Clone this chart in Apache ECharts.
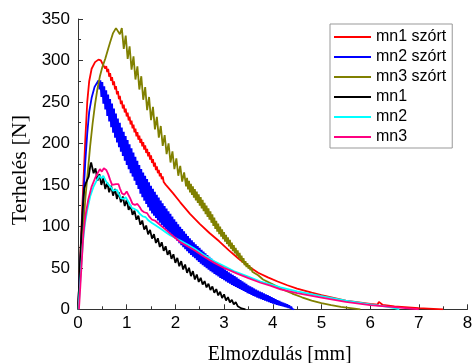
<!DOCTYPE html>
<html><head><meta charset="utf-8">
<script src="https://cdn.jsdelivr.net/npm/echarts@6/dist/echarts.min.js"></script>
<style>html,body{margin:0;padding:0;background:#fff}#c{width:474px;height:363px}</style>
</head><body><div id="c"></div>
<script>
// Tick labels
const xTicks = [0,1,2,3,4,5,6,7,8];
const yTicks = [0,50,100,150,200,250,300,350];
const seriesNames = ['mn1 szórt','mn2 szórt','mn3 szórt','mn1','mn2','mn3'];

// mn1 szórt (red): [displacement mm, load N]
const mn1Szort = [[0,0],[0.03,38],[0.06,80],[0.09,125],[0.12,165],[0.15,205],[0.19,250],[0.23,275],[0.28,290],[0.35,298],[0.42,301],[0.47,300],[0.50,298],
[0.52,294.2],[0.54,296.4],[0.56,290.4],[0.58,293.3],[0.60,286],[0.62,290],[0.64,280.4],[0.66,284.9],[0.68,275.4],[0.70,279.8],[0.72,270.3],
[0.74,274.8],[0.76,265],[0.78,269.1],[0.80,259.2],[0.82,263.2],[0.84,253.3],[0.86,257.4],[0.88,247.4],[0.90,251.5],[0.92,242.1],[0.94,246.7],
[0.96,237.3],[0.98,241.9],[1.00,232.5],[1.02,237.1],[1.04,227.7],[1.06,232.3],[1.08,222.9],[1.10,227.5],[1.12,218.1],[1.14,222.7],[1.16,213.3],
[1.18,217.9],[1.20,208.5],[1.22,213.5],[1.24,204.5],[1.26,209.5],[1.28,200.5],[1.30,205.5],[1.32,196.5],[1.34,201.5],[1.36,192.5],[1.38,197.5],
[1.40,188.5],[1.42,193.5],[1.44,184.5],[1.46,189.5],[1.48,180.5],[1.50,185.5],[1.52,176.4],[1.54,181.2],[1.56,172.1],[1.58,177],[1.60,167.8],
[1.62,172.4],[1.64,164.1],[1.66,168.1],[1.68,160.4],[1.70,164.1],[1.72,157],[1.74,160.1],[1.76,153.5],[1.78,155.9],[1.80,150.3],[1.82,151.9],
[1.84,147.6],[1.86,148.2],
[1.95,140],[2.1,129],[2.3,115],[2.5,103],[2.7,92],[2.9,82],[3.1,71],[3.3,61],[3.5,52],[3.7,44],[3.9,38.5],[4.1,33.5],[4.3,29],[4.5,25],
[4.8,20],[5.0,17],[5.5,10.5],[6.0,6.5],[6.15,5.5],[6.18,9],[6.22,8],[6.26,5.2],[6.5,3.5],[7.0,1.5],[7.5,0]];

// mn2 szórt (blue)
const mn2Szort = [[0,0],[0.03,35],[0.06,70],[0.09,108],[0.12,145],[0.15,178],[0.19,212],[0.23,238],[0.28,255],[0.34,268],[0.42,276],
[0.44,265],[0.46,276],[0.48,256],[0.50,274],[0.52,248],[0.54,269],[0.56,241],[0.58,264],[0.60,233],[0.62,259],[0.64,226.5],[0.66,253.4],
[0.68,219.5],[0.70,248],[0.72,213],[0.74,242],[0.76,207],[0.78,236],[0.80,201],[0.82,230],[0.84,195.5],[0.86,225],[0.88,190],[0.90,219],
[0.92,185],[0.94,214],[0.96,179],[0.98,209],[1.00,174],[1.02,204],[1.04,169],[1.06,199],[1.08,164],[1.10,194],[1.12,160],[1.14,189],
[1.16,155],[1.18,184],[1.20,150],[1.22,179],[1.24,145],[1.26,174],[1.28,139.5],[1.30,169],[1.32,135],[1.34,165],[1.36,131],[1.38,161],
[1.40,127],[1.42,157],[1.44,123],[1.46,153],[1.48,119],[1.50,149],[1.52,115.6],[1.54,145.4],[1.56,112.8],[1.58,141.8],[1.60,110],[1.62,138],
[1.64,107],[1.66,134.6],[1.68,104.4],[1.70,131],[1.72,101.8],[1.74,127.8],[1.76,99.4],[1.78,124.6],[1.80,97],[1.82,121.4],[1.84,94.6],
[1.86,118.2],[1.88,92.2],[1.90,115],[1.92,89.8],[1.94,111.8],[1.96,87.4],[1.98,108.6],[2.00,85],[2.02,105.5],[2.04,82.4],[2.06,102.5],
[2.08,79.8],[2.10,99.5],[2.12,77.3],[2.14,96.7],[2.16,74.9],[2.18,93.9],[2.20,72.5],[2.22,91.1],[2.24,70.1],[2.26,88.3],[2.28,67.7],
[2.30,85.5],[2.32,65.5],[2.34,83.1],[2.36,63.5],[2.38,80.7],[2.40,61.5],[2.42,78.4],[2.44,59.3],[2.46,76.2],[2.48,57.1],[2.50,74],
[2.52,55.1],[2.54,71.8],[2.56,53.3],[2.58,69.6],[2.60,51.4],[2.62,67.5],[2.64,49.6],[2.66,65.3],[2.68,47.8],[2.70,63.2],[2.72,46],
[2.74,61.2],[2.76,44.4],[2.78,59.2],[2.80,42.7],[2.82,57.3],[2.84,41.1],[2.86,55.3],[2.88,39.5],[2.90,53.4],[2.92,37.9],[2.94,51.6],
[2.96,36.5],[2.98,49.8],[3.00,35],[3.02,48.1],[3.04,33.6],[3.06,46.4],[3.08,32.1],[3.10,44.6],[3.12,30.8],[3.14,43],[3.16,29.5],
[3.18,41.5],[3.20,28.3],[3.22,39.9],[3.24,27.1],[3.26,38.4],[3.28,25.8],[3.30,36.8],[3.32,24.6],[3.34,35.2],[3.36,23.3],[3.38,33.7],
[3.40,22.1],[3.42,32.1],[3.44,20.9],[3.46,30.6],[3.48,19.6],[3.50,29],[3.52,18.5],[3.54,27.7],[3.56,17.4],[3.58,26.4],[3.60,16.3],
[3.62,25.1],[3.64,15.2],[3.66,23.8],[3.68,14.1],[3.70,22.5],[3.72,13.1],[3.74,21.4],[3.76,12.2],[3.78,20.3],[3.80,11.3],[3.82,19.2],
[3.84,10.4],[3.86,18.1],[3.88,9.5],[3.90,17],[3.92,8.6],[3.94,15.9],[3.96,7.7],[3.98,14.8],[4.00,7],[4.02,13.4],[4.04,6.2],[4.06,12.2],
[4.08,5.4],[4.10,11],[4.12,4.7],[4.14,10],[4.16,4.1],[4.18,9],[4.20,3.5],[4.22,8],[4.24,2.9],[4.26,7],[4.28,2.3],[4.30,6],[4.32,1.6],
[4.34,4.8],[4.36,0.9],[4.38,3.4],[4.40,0.3],[4.42,2.1],[4.44,0]];

// mn3 szórt (olive)
const mn3Szort = [[0,0],[0.05,45],[0.1,92],[0.15,133],[0.2,165],[0.25,197],[0.3,224],[0.35,247],[0.4,266],[0.45,281],[0.5,292],[0.56,302],
[0.62,314],[0.66,322],[0.72,333],[0.78,339],[0.82,341],
[0.86,331.6],[0.90,339],[0.94,314],[0.98,330],[1.02,302],[1.06,317],[1.10,289],[1.14,305],[1.18,277],[1.22,293],[1.26,265],[1.30,281],
[1.34,252.6],[1.38,268],[1.42,240],[1.46,256],[1.50,228],[1.54,244],[1.58,217],[1.62,232],[1.66,207],[1.70,221],[1.74,197],[1.78,210],
[1.82,187],[1.86,200],[1.90,177],[1.94,190.5],[1.98,169],[2.02,182],[2.06,161],[2.10,173],[2.14,154],[2.18,165],
[2.22,148.2],[2.24,158.4],[2.26,144.6],[2.28,154.8],[2.30,141],[2.32,151.4],[2.34,137.8],[2.36,148.2],[2.38,134.6],[2.40,145],
[2.42,131.4],[2.44,141.8],[2.46,128.2],[2.48,138.6],[2.50,125],[2.52,135.3],[2.54,121.6],[2.56,131.9],[2.58,118.2],[2.60,128.5],
[2.62,114.8],[2.64,125.1],[2.66,111.4],[2.68,121.7],[2.70,108],[2.72,118.1],[2.74,104.3],[2.76,114.4],[2.78,100.6],[2.80,110.6],
[2.82,97],[2.84,106.7],[2.86,93.5],[2.88,103.2],[2.90,90.5],[2.92,99.8],[2.94,87.5],[2.96,96.5],[2.98,84.5],[3.00,93],[3.02,81.6],
[3.04,89.9],[3.06,78.7],[3.08,86.8],[3.10,75.8],[3.12,83.6],[3.14,73],[3.16,80.4],[3.18,70.2],[3.20,77.3],[3.22,67.4],[3.24,74.2],
[3.26,64.6],[3.28,71.1],[3.30,61.8],[3.32,68],[3.34,58.9],[3.36,64.8],[3.38,56],[3.40,61.7],[3.42,53.2],[3.44,58.2],[3.46,51],
[3.48,55.5],[3.50,49],[3.52,53.3],[3.54,47.1],[3.56,50.6],[3.58,45.2],[3.60,47.5],
[3.7,41],[3.8,36],[4.0,30],[4.2,24],[4.4,19],[4.6,14.5],[4.8,10.5],[5.0,7.5],[5.2,5],[5.4,3],[5.6,1.5],[5.8,0]];

// mn1 (black)
const mn1 = [[0,0],[0.02,25],[0.04,55],[0.07,92],[0.10,125],[0.13,146],[0.16,152],[0.19,156],[0.22,160],[0.25,172],[0.27,177],
[0.32,164],[0.36,170],[0.40,155],[0.44,163],[0.48,150],[0.52,158],[0.56,145],[0.60,153],[0.64,141],[0.68,149],[0.72,137],[0.76,145],
[0.80,133],[0.84,141],[0.88,129],[0.92,136],[0.96,124.5],[1.00,132],[1.04,120],[1.08,125],[1.12,114],[1.16,119],[1.20,108],[1.24,113],
[1.28,102],[1.32,107],[1.36,96],[1.40,101],[1.44,90.4],[1.48,95.8],[1.52,85.2],[1.56,90.6],[1.60,80],[1.64,85.6],[1.68,75.2],[1.72,80.8],
[1.76,70.4],[1.80,76],[1.84,65.6],[1.88,71.2],[1.92,60.8],[1.96,66.4],[2.00,56],[2.04,62],[2.08,52],[2.12,58],[2.16,48],[2.20,54],
[2.24,44],[2.28,50],[2.32,40],[2.36,46],[2.40,36],[2.44,42],[2.48,33],[2.52,38],[2.56,29.8],[2.60,34],[2.64,26.4],[2.68,30.8],
[2.72,23.2],[2.76,27.6],[2.80,20],[2.84,24.4],[2.88,16.8],[2.92,21.2],[2.96,13.6],[3.00,18],[3.04,10.6],[3.08,14.7],[3.12,8.3],
[3.16,11.4],[3.20,6],[3.24,8.6],[3.28,3.7],[3.32,5.3],[3.36,1],[3.40,2],[3.44,0]];

// mn2 (cyan)
const mn2 = [[0.01,0],[0.04,28],[0.07,55],[0.1,80],[0.14,102],[0.19,120],[0.25,136],[0.32,148],[0.39,156],[0.44,161],[0.48,158],[0.52,161],
[0.56,156],[0.60,152],[0.64,153],[0.68,147],[0.72,143],[0.76,145],[0.80,144],[0.84,139],[0.88,134],[0.93,133],[0.98,135],[1.02,133],
[1.06,127],[1.11,122],[1.16,121],[1.22,119],[1.27,115],[1.33,112],[1.39,111],[1.45,107],[1.52,104],[1.6,101],[1.7,97],[1.8,93],[1.9,89],
[2.0,86],[2.1,83],[2.25,78],[2.4,73],[2.6,65],[2.8,58],[3.0,52],[3.2,46],[3.47,40],[3.75,33.5],[4.16,26.5],[4.5,21.5],[5.0,16],[5.5,10.5],
[6.0,6],[6.3,3.5],[6.5,1.5],[6.6,0]];

// mn3 (pink)
const mn3 = [[0.02,0],[0.05,30],[0.08,60],[0.11,90],[0.15,112],[0.21,132],[0.28,148],[0.35,158],[0.41,165],[0.45,169],[0.49,166],[0.53,170],
[0.58,168],[0.62,163],[0.66,156],[0.70,150],[0.74,148],[0.78,151],[0.83,151],[0.86,146],[0.90,140],[0.95,138],[1.00,142],[1.03,141],
[1.07,134],[1.12,127],[1.17,126],[1.22,127],[1.27,123],[1.31,119],[1.36,117],[1.42,116],[1.46,112],[1.52,108],[1.58,107],[1.64,104],
[1.72,100],[1.8,96],[1.9,91],[2.0,86],[2.1,81],[2.25,76],[2.4,71],[2.6,63],[2.8,56],[3.0,50],[3.27,43],[3.5,37.5],[3.75,32],[3.95,28.5],
[4.16,24],[4.5,19.5],[5.0,14],[5.5,9],[6.0,5],[6.5,2.5],[6.9,0.5],[7.0,0]];

const colors = ['#ff0000','#0000ff','#808000','#000000','#00ffff','#ff0080'];
const allData = [mn1Szort, mn2Szort, mn3Szort, mn1, mn2, mn3];

const chart = echarts.init(document.getElementById('c'), null, {renderer:'canvas'});
const sansFont = "Arial, 'Liberation Sans', sans-serif";
const serifFont = "'Times New Roman', 'Liberation Serif', serif";
const axisCol = '#333';

chart.setOption({
  animation: false,
  backgroundColor: '#fff',
  grid: {left: 78, right: 6.5, top: 19, bottom: 53.7, outerBoundsMode: 'none', containLabel: false},
  legend: {
    orient: 'vertical', left: 330, top: 24,
    data: seriesNames,
    itemWidth: 37, itemHeight: 14, itemGap: 4,
    padding: [5, 6, 3, 3],
    borderColor: '#999', borderWidth: 1, borderRadius: 0,
    itemStyle: {opacity: 0},
    textStyle: {fontFamily: sansFont, fontSize: 16, color: '#000'}
  },
  xAxis: {
    type: 'value', min: xTicks[0], max: xTicks[xTicks.length-1], interval: 1,
    name: 'Elmozdulás [mm]', nameLocation: 'middle', nameGap: 35,
    nameTextStyle: {fontFamily: serifFont, fontSize: 20, color: '#000', padding: [0,0,0,14]},
    axisLine: {show: true, onZero: false, lineStyle: {color: axisCol, width: 1}},
    axisTick: {show: true, inside: true, length: 5, lineStyle: {color: axisCol}},
    minorTick: {show: true, splitNumber: 2, length: 3, lineStyle: {color: axisCol}},
    axisLabel: {fontFamily: sansFont, fontSize: 17, color: '#000', margin: 6},
    splitLine: {show: false}
  },
  yAxis: {
    type: 'value', min: yTicks[0], max: yTicks[yTicks.length-1], interval: 50,
    name: 'Terhelés [N]', nameLocation: 'middle', nameGap: 46, nameRotate: 90,
    nameTextStyle: {fontFamily: serifFont, fontSize: 22, color: '#000', padding: [0,12,0,0]},
    axisLine: {show: true, onZero: false, lineStyle: {color: axisCol, width: 1}},
    axisTick: {show: true, inside: true, length: 5, lineStyle: {color: axisCol}},
    minorTick: {show: true, splitNumber: 2, length: 3, lineStyle: {color: axisCol}},
    axisLabel: {fontFamily: sansFont, fontSize: 17, color: '#000', margin: 8},
    splitLine: {show: false}
  },
  series: seriesNames.map((n, i) => ({
    name: n, type: 'line', data: allData[i],
    symbol: 'none', showSymbol: false, smooth: false,
    color: colors[i],
    lineStyle: {color: colors[i], width: 1.8},
    emphasis: {disabled: true}
  }))
});
</script></body></html>
